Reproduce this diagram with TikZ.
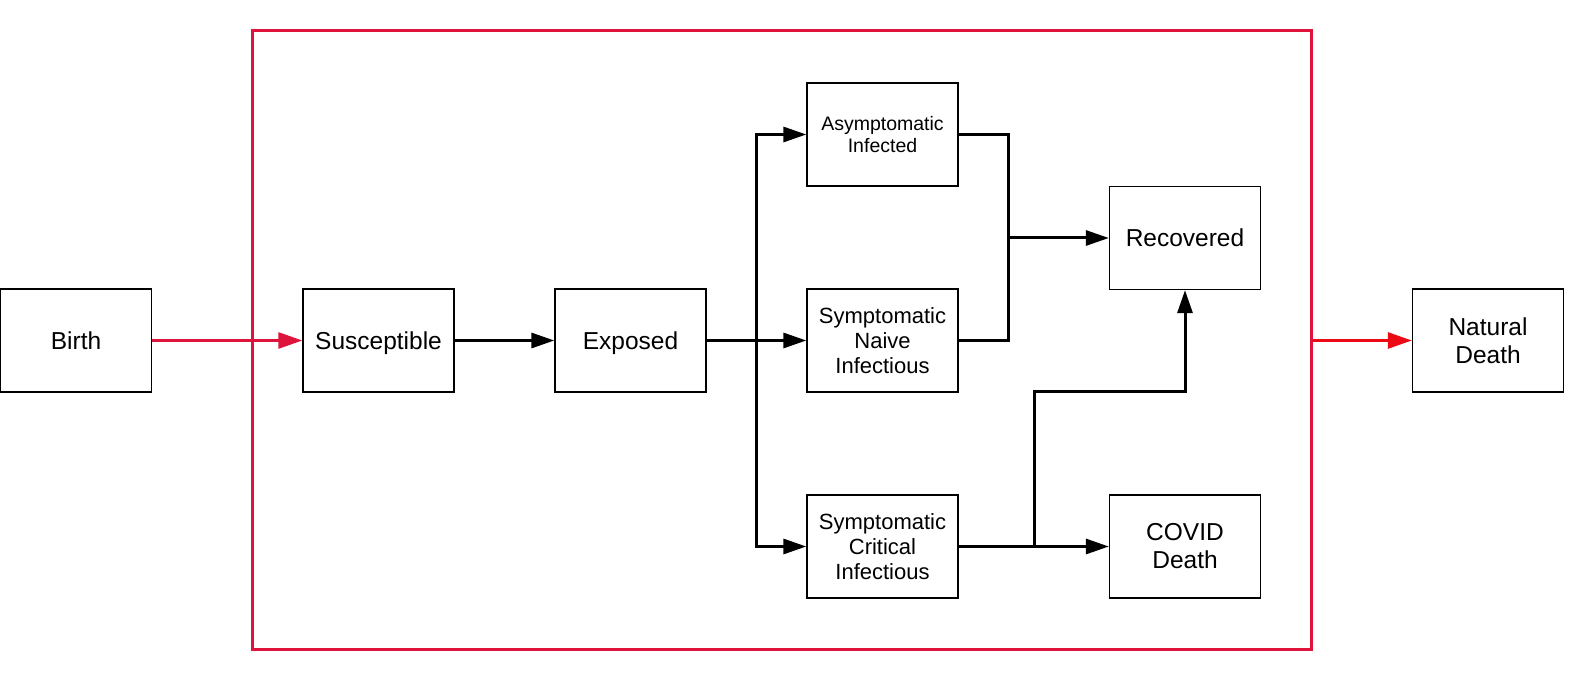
\documentclass[tikz,border=0pt]{standalone}
\usepackage{fontspec}
\setmainfont{Liberation Sans}
\usetikzlibrary{arrows.meta}
\definecolor{crim}{RGB}{222,20,60}
\definecolor{brightred}{RGB}{236,10,20}
\newcommand{\zdp}[1]{\raisebox{0pt}[\height][0pt]{#1}}
\tikzset{
  box/.style={draw=black, line width=1.3pt, minimum width=151pt, minimum height=103pt, inner sep=0pt, align=center, font=\fontsize{24.5}{28}\selectfont},
  midtext/.style={font=\fontsize{22}{25}\selectfont},
  smalltext/.style={font=\fontsize{19.5}{22.7}\selectfont},
  arr/.style={line width=3pt, -{Triangle[length=23pt,width=15pt]}},
  conn/.style={line width=3pt},
  redarr/.style={line width=2.7pt, draw=crim, -{Triangle[length=24pt,width=16pt]}},
  redarr2/.style={line width=2.7pt, draw=brightred, -{Triangle[length=24pt,width=16pt]}},
  frame/.style={draw=crim, line width=3pt, minimum width=1059pt, minimum height=618pt, inner sep=0pt}
}
\begin{document}
\begin{tikzpicture}[x=1pt,y=-1pt]
\useasboundingbox (0,0) rectangle (1588,684);
\node[frame] (frm) at (781.5,340) {};
\node[box] (birth) at (76,340.5) {Birth};
\node[box] (sus) at (378.5,340.5) {\zdp{Susceptible}};
\node[box] (exp) at (630.5,340.5) {\zdp{Exposed}};
\node[box,smalltext] (asym) at (882.5,134.5) {Asymptomatic\\Infected};
\node[box,midtext] (sni) at (882.5,340.5) {Symptomatic\\Naive\\Infectious};
\node[box,midtext] (sci) at (882.5,546.5) {Symptomatic\\Critical\\Infectious};
\node[box] (rec) at (1185,238) {Recovered};
\node[box] (cov) at (1185,546.5) {COVID\\Death};
\node[box] (nat) at (1488,340.5) {Natural\\Death};
\coordinate (br) at (756,340.5);
\coordinate (j) at (1008.5,238);
\coordinate (s) at (1034,546.5);
\coordinate (k) at (1034,392);
% connectors
\draw[redarr] (birth.east) -- (sus.west);
\draw[redarr2] (frm.east |- nat.west) -- (nat.west);
\draw[arr] (sus.east) -- (exp.west);
\draw[arr] (exp.east) -- (sni.west);
\draw[conn, line cap=rect] (br |- asym.west) -- (br |- sci.west);
\draw[arr] (br |- asym.west) -- (asym.west);
\draw[arr] (br |- sci.west) -- (sci.west);
\draw[conn] (asym.east) -| (j) |- (sni.east);
\draw[arr] (j) -- (rec.west);
\draw[arr] (sci.east) -- (cov.west);
\draw[arr] (s) -- (k) -| (rec.south);
\end{tikzpicture}
\end{document}
